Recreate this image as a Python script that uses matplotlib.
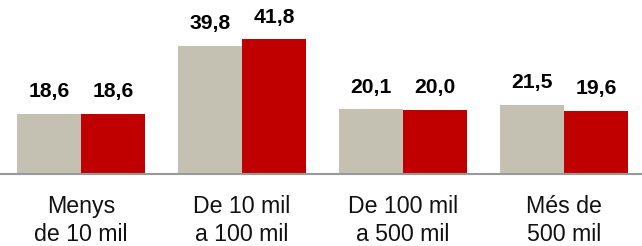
import matplotlib
matplotlib.use("Agg")
import matplotlib.pyplot as plt
import numpy as np

categories = ["Menys\nde 10 mil", "De 10 mil\na 100 mil", "De 100 mil\na 500 mil", "Més de\n500 mil"]
series_a = [18.6, 39.8, 20.1, 21.5]
series_b = [18.6, 41.8, 20.0, 19.6]
labels_a = ["18,6", "39,8", "20,1", "21,5"]
labels_b = ["18,6", "41,8", "20,0", "19,6"]

plt.rcParams['font.family'] = ['Liberation Sans', 'DejaVu Sans']

fig = plt.figure(figsize=(6.42, 2.46), dpi=100)
ax = fig.add_axes([0, 72/246, 1, 174/246])

x = np.arange(len(categories))
w = 0.4
ba = ax.bar(x - w/2, series_a, w, color="#C4C1B3", edgecolor="none")
bb = ax.bar(x + w/2, series_b, w, color="#C00000", edgecolor="none")

for rects, labs in ((ba, labels_a), (bb, labels_b)):
    for r, lab in zip(rects, labs):
        ax.annotate(lab, (r.get_x() + r.get_width()/2, r.get_height()),
                    xytext=(0, 12), textcoords="offset points",
                    ha="center", va="baseline", fontsize=15.2, fontweight="bold",
                    color="black")

ax.set_xlim(-0.503, 3.484)
ax.set_ylim(0, 54)
ax.set_yticks([])
ax.set_xticks(x)
ax.set_xticklabels(categories, fontsize=16.7, linespacing=1.27, color="#111111")
ax.tick_params(axis="x", length=0, pad=15)
for s in ("top", "right", "left"):
    ax.spines[s].set_visible(False)
ax.spines["bottom"].set_color("#999999")
ax.spines["bottom"].set_linewidth(1.5)

fig.savefig("out.png", dpi=100)
